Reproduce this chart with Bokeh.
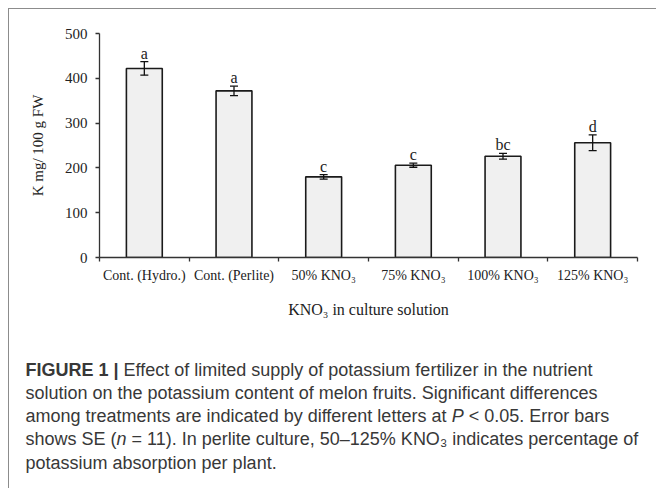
from bokeh.plotting import figure
from bokeh.models import Range1d, FixedTicker, Label, Whisker, ColumnDataSource, TeeHead
from bokeh.embed import file_html
from bokeh.resources import INLINE
from bokeh.core.properties import value

# ---- data ----
categories = ["Cont. (Hydro.)", "Cont. (Perlite)", "50% KNO₃", "75% KNO₃", "100% KNO₃", "125% KNO₃"]
k_content = [422, 372, 180, 206, 226, 256]
k_se = [15, 10.5, 5, 4.5, 6.5, 17.5]
letters = ["a", "a", "c", "c", "bc", "d"]
y_ticks = [0, 100, 200, 300, 400, 500]
x_title = "KNO₃ in culture solution"
y_title = "K mg/ 100 g FW"

cap_bold = "FIGURE 1 |"
cap_line1 = "Effect of limited supply of potassium fertilizer in the nutrient"
cap_line2 = "solution on the potassium content of melon fruits. Significant differences"
cap_line3a = "among treatments are indicated by different letters at"
cap_line3b = "P"
cap_line3c = "< 0.05. Error bars"
cap_line4a = "shows SE ("
cap_line4b = "n"
cap_line4c = "= 11). In perlite culture, 50–125% KNO₃ indicates percentage of"
cap_line5 = "potassium absorption per plant."

SERIF = "Liberation Serif"
SANS = "Liberation Sans"

xs = [i + 0.5 for i in range(len(categories))]
src = ColumnDataSource(dict(
    x=xs,
    top=k_content,
    upper=[v + e for v, e in zip(k_content, k_se)],
    lower=[v - e for v, e in zip(k_content, k_se)],
    letter=letters,
))

YMAX = 500
W = 648
H1 = 320
ML, MR, MT, MB = 90, 20, 24, 72
BORDER = "1px solid #8c8c8c"

p = figure(width=W, height=H1,
           x_range=Range1d(0, len(categories)), y_range=Range1d(0, YMAX),
           output_backend="svg", toolbar_location=None,
           min_border_left=ML, min_border_right=MR,
           min_border_top=MT, min_border_bottom=MB)
p.styles = {"margin-left": "8px", "margin-top": "8px",
            "border-top": BORDER, "border-left": BORDER}
p.xgrid.visible = False
p.ygrid.visible = False
p.outline_line_color = None
p.background_fill_color = "white"
p.border_fill_color = "white"

p.vbar(x="x", top="top", bottom=0, width=0.4, source=src,
       fill_color="#f0f0f0", line_color="#1a1a1a", line_width=1.6)

wh = Whisker(base="x", upper="upper", lower="lower", source=src,
             line_color="#111111", line_width=1.3, level="overlay",
             upper_head=TeeHead(size=8, line_color="#111111", line_width=1.3),
             lower_head=TeeHead(size=8, line_color="#111111", line_width=1.3))
p.add_layout(wh)

p.text(x="x", y="upper", text="letter", source=src, text_align="center",
       text_baseline="bottom", y_offset=0,
       text_font=value(SERIF), text_font_size="16px", text_color="#222222")

# x axis: labels at centres, ticks at boundaries
xa = p.xaxis[0]
xa.ticker = FixedTicker(ticks=xs, minor_ticks=list(range(len(categories) + 1)))
xa.major_label_overrides = {x: c for x, c in zip(xs, categories)}
xa.major_tick_out = 0
xa.major_tick_in = 0
xa.minor_tick_out = 4
xa.minor_tick_in = 0
xa.minor_tick_line_color = "#333333"
xa.minor_tick_line_width = 1.3
xa.axis_line_color = "#333333"
xa.axis_line_width = 1.3
xa.major_label_standoff = 6
xa.major_label_text_font = SERIF
xa.major_label_text_font_size = "14px"
xa.major_label_text_color = "#222222"
xa.axis_label = x_title
xa.axis_label_text_font = SERIF
xa.axis_label_text_font_size = "16px"
xa.axis_label_text_font_style = "normal"
xa.axis_label_text_color = "#222222"
xa.axis_label_standoff = 15

ya = p.yaxis[0]
ya.ticker = FixedTicker(ticks=y_ticks)
ya.major_tick_out = 4
ya.major_tick_in = 0
ya.minor_tick_out = 0
ya.minor_tick_in = 0
ya.major_tick_line_color = "#333333"
ya.major_tick_line_width = 1.3
ya.axis_line_color = "#333333"
ya.axis_line_width = 1.3
ya.major_label_standoff = 8
ya.major_label_text_font = SERIF
ya.major_label_text_font_size = "15px"
ya.major_label_text_color = "#222222"
ya.axis_label = y_title
ya.axis_label_text_font = SERIF
ya.axis_label_text_font_size = "15px"
ya.axis_label_text_font_style = "normal"
ya.axis_label_text_color = "#222222"
ya.axis_label_standoff = 16

# ---- caption panel (1 data unit = 1 pixel) ----
H2 = 160
pc = figure(width=W, height=H2, x_range=Range1d(0, W), y_range=Range1d(0, H2),
            output_backend="svg", toolbar_location=None,
            min_border_left=0, min_border_right=0, min_border_top=0, min_border_bottom=0,
            x_axis_location=None, y_axis_location=None)
pc.styles = {"margin-left": "8px", "border-left": BORDER}
pc.xgrid.visible = False
pc.ygrid.visible = False
pc.outline_line_color = None
pc.background_fill_color = "white"
pc.border_fill_color = "white"

cap_size = 18
cap_color = "#383838"
x0 = 16
baselines = [41.0, 64.3, 87.6, 110.9, 134.3]
em = cap_size / 1000.0


def cap(text, dx, line, style="normal"):
    pc.add_layout(Label(x=x0 + dx, y=H2 - baselines[line], text=text, text_font=SANS,
                        text_font_size=f"{cap_size}px", text_font_style=style,
                        text_color=cap_color, text_baseline="alphabetic"))


cap(cap_bold, 0, 0, "bold")
cap(cap_line1, (5170 + 278) * em, 0)
cap(cap_line2, 0, 1)
cap(cap_line3a, 0, 2)
cap(cap_line3b, 23678 * em, 2, "italic")
cap(cap_line3c, (23678 + 667 + 278) * em, 2)
cap(cap_line4a, 0, 3)
cap(cap_line4b, 5057 * em, 3, "italic")
cap(cap_line4c, (5057 + 556 + 278) * em, 3)
cap(cap_line5, 0, 4)

open("out.html", "w").write(file_html([p, pc], INLINE))
